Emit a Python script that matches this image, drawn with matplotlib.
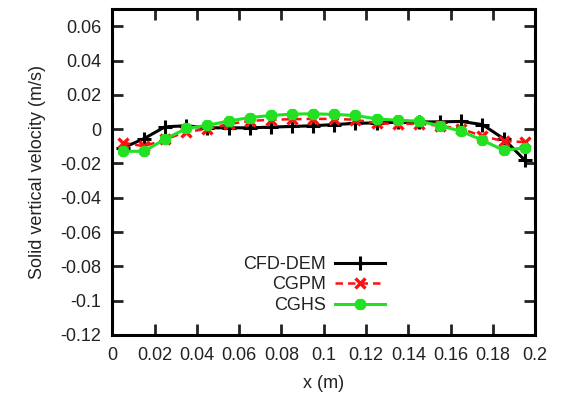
import numpy as np
import matplotlib
matplotlib.use('Agg')
import matplotlib.pyplot as plt

plt.rcParams['font.family'] = ['Liberation Sans', 'DejaVu Sans']

# sampling positions across the bed (m)
x = [0.005, 0.015, 0.025, 0.035, 0.045, 0.055, 0.065, 0.075, 0.085, 0.095,
     0.105, 0.115, 0.125, 0.135, 0.145, 0.155, 0.165, 0.175, 0.185, 0.195]

# solid vertical velocity (m/s)
cfd_dem = [-0.0110, -0.0055, 0.0014, 0.0020, 0.0008, 0.0008, 0.0008, 0.0012, 0.0016, 0.0020,
           0.0027, 0.0034, 0.0037, 0.0040, 0.0042, 0.0043, 0.0045, 0.0027, -0.0055, -0.0180]
cgpm = [-0.0078, -0.0100, -0.0060, -0.0016, 0.0002, 0.0030, 0.0048, 0.0055, 0.0058, 0.0060,
        0.0060, 0.0055, 0.0035, 0.0030, 0.0032, 0.0020, 0.0002, -0.0040, -0.0070, -0.0075]
cghs = [-0.0129, -0.0129, -0.0058, 0.0004, 0.0023, 0.0047, 0.0068, 0.0080, 0.0088, 0.0090,
        0.0086, 0.0080, 0.0060, 0.0052, 0.0047, 0.0020, -0.0012, -0.0064, -0.0123, -0.0109]

xticks = np.arange(0, 0.2001, 0.02)
yticks = np.arange(-0.12, 0.0601, 0.02)
xlabels = ['0', '0.02', '0.04', '0.06', '0.08', '0.1', '0.12', '0.14', '0.16', '0.18', '0.2']
ylabels = ['-0.12', '-0.1', '-0.08', '-0.06', '-0.04', '-0.02', '0', '0.02', '0.04', '0.06']

fig = plt.figure(figsize=(5.64, 4.01), dpi=100)
ax = fig.add_axes([0.199, 0.165, 0.750, 0.812])

ax.plot(x, cfd_dem, color='black', lw=2.2, marker='+', ms=10, mew=2.2, label='CFD-DEM')
ax.plot(x, cgpm, color='#ff1010', lw=1.8, ls=(0, (3, 2)), marker='x', ms=7, mew=2.4, label='CGPM')
ax.plot(x, cghs, color='#22e022', lw=2.2, marker=(8, 2, 0), ms=8, mew=2.6, label='CGHS')

ax.set_xlim(0, 0.2)
ax.set_ylim(-0.12, 0.07)
ax.set_xticks(xticks)
ax.set_xticklabels(xlabels)
ax.set_yticks(yticks)
ax.set_yticklabels(ylabels)
ax.tick_params(direction='in', length=8, width=2, top=True, right=True,
               labelsize=13, colors='#222222')
ax.tick_params(axis='y', pad=8)
ax.tick_params(axis='x', pad=9)
for s in ax.spines.values():
    s.set_linewidth(2.2)

ax.set_xlabel('x (m)', fontsize=13, color='#222222', labelpad=8)
ax.set_ylabel('Solid vertical velocity (m/s)', fontsize=13, color='#222222', labelpad=10)

leg = ax.legend(loc='lower right', bbox_to_anchor=(0.675, 0.025), frameon=False,
                markerfirst=False, fontsize=13, handlelength=2.8, labelspacing=0.2,
                handletextpad=0.5, borderpad=0.2)
for t in leg.get_texts():
    t.set_color('#222222')

fig.savefig('out.png', dpi=100)
